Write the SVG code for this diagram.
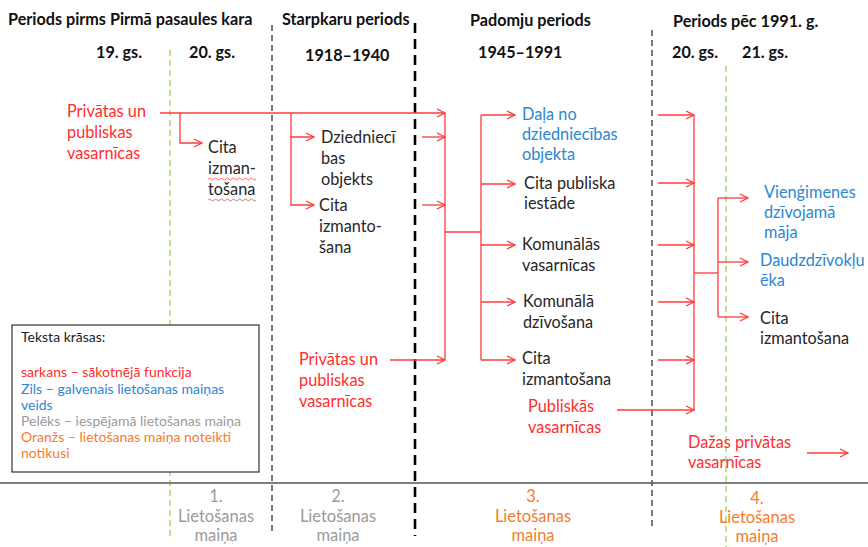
<svg xmlns="http://www.w3.org/2000/svg" width="868" height="547" viewBox="0 0 868 547">
<defs>
<marker id="ah" markerWidth="10" markerHeight="10" refX="9" refY="5" orient="auto" markerUnits="userSpaceOnUse">
<path d="M1,1 L9,5 L1,9" fill="none" stroke="#FF3B3B" stroke-width="1.3"/>
</marker>
<style>
text{font-family:Lato,"Liberation Sans",sans-serif;}
.hd{font-size:16.2px;font-weight:bold;fill:#111;}
.lb{font-size:16.3px;fill:#262626;}
.red{font-size:16.3px;fill:#FF2D2D;}
.blue{font-size:16.3px;fill:#2D86D2;}
.lg{font-size:14px;}
.bt{font-size:16.5px;text-anchor:middle;}
.gray{fill:#9A9A9A;}
.or{fill:#F57B2D;}
.c{fill:none;stroke:#FF3B3B;stroke-width:1.3;}
.ca{fill:none;stroke:#FF3B3B;stroke-width:1.3;marker-end:url(#ah);}
.sq{fill:none;stroke:#FF4040;stroke-width:0.8;}
</style>
</defs>
<rect width="868" height="547" fill="#fff"/>
<g id="grid">
<line x1="170" y1="50" x2="170" y2="538" stroke="#92D050" stroke-width="1.2" stroke-dasharray="6,4"/>
<line x1="726" y1="66" x2="726" y2="547" stroke="#92D050" stroke-width="1.2" stroke-dasharray="6,4"/>
<line x1="272" y1="25" x2="272" y2="535" stroke="#333" stroke-width="1.3" stroke-dasharray="6,4"/>
<line x1="652" y1="30" x2="652" y2="530" stroke="#333" stroke-width="1.3" stroke-dasharray="6,4"/>
<line x1="415" y1="23" x2="415" y2="536" stroke="#000" stroke-width="2.6" stroke-dasharray="10,6"/>
<line x1="0" y1="483" x2="868" y2="483" stroke="#555" stroke-width="1.5"/>
</g>
<g id="headers">
<text class="hd" x="8" y="25">Periods pirms Pirmā pasaules kara</text>
<text class="hd" x="282" y="25">Starpkaru periods</text>
<text class="hd" x="470" y="26">Padomju periods</text>
<text class="hd" x="673" y="27">Periods pēc 1991. g.</text>
<text class="hd" x="96" y="58">19. gs.</text>
<text class="hd" x="189" y="58">20. gs.</text>
<text class="hd" x="305" y="61">1918–1940</text>
<text class="hd" x="478" y="58">1945–1991</text>
<text class="hd" x="672" y="58">20. gs.</text>
<text class="hd" x="742" y="58">21. gs.</text>
</g>
<g id="connectors">
<path class="ca" d="M160,113 H445"/>
<path class="ca" d="M180,113 V143 H202"/>
<path class="ca" d="M291,113 V137 H314"/>
<path class="ca" d="M291,137 V205 H314"/>
<path class="ca" d="M422,137 H445"/>
<path class="ca" d="M422,205 H445"/>
<path class="ca" d="M390,360 H445"/>
<path class="c" d="M445,113 V360"/>
<path class="c" d="M445,232 H481"/>
<path class="c" d="M481,115 V360"/>
<path class="ca" d="M481,115 H515"/>
<path class="ca" d="M481,184 H515"/>
<path class="ca" d="M481,245 H515"/>
<path class="ca" d="M481,302 H515"/>
<path class="ca" d="M481,360 H515"/>
<path class="ca" d="M658,115 H694"/>
<path class="ca" d="M658,183 H694"/>
<path class="ca" d="M658,245 H694"/>
<path class="ca" d="M658,302 H694"/>
<path class="ca" d="M658,360 H694"/>
<path class="ca" d="M617,410 H694"/>
<path class="c" d="M694,115 V410"/>
<path class="c" d="M694,273 H718"/>
<path class="c" d="M718,198 V317"/>
<path class="ca" d="M718,198 H748"/>
<path class="ca" d="M718,262 H748"/>
<path class="ca" d="M718,317 H748"/>
<path class="ca" d="M807,453 H848"/>
</g>
<g id="n-privatas1">
<text class="red"><tspan x="67" y="117">Privātas un</tspan><tspan x="67" y="138">publiskas</tspan><tspan x="67" y="159">vasarnīcas</tspan></text>
</g>
<g id="n-cita1">
<text class="lb"><tspan x="208" y="153">Cita</tspan><tspan x="208" y="174">izman-</tspan><tspan x="208" y="195">tošana</tspan></text>
<path class="sq" d="M208,179 q1.5,-2 3,0 t3,0 t3,0 t3,0 t3,0 t3,0 t3,0 t3,0 t3,0 t3,0 t3,0 t3,0 t3,0 t3,0 t3,0 t3,0"/>
<path class="sq" d="M208,200 q1.5,-2 3,0 t3,0 t3,0 t3,0 t3,0 t3,0 t3,0 t3,0 t3,0 t3,0 t3,0 t3,0 t3,0 t3,0 t3,0 t3,0"/>
</g>
<g id="n-dziedn">
<text class="lb"><tspan x="321" y="143">Dziedniecī</tspan><tspan x="321" y="164">bas</tspan><tspan x="321" y="185">objekts</tspan></text>
</g>
<g id="n-cita2">
<text class="lb"><tspan x="319" y="211">Cita</tspan><tspan x="319" y="232">izmanto-</tspan><tspan x="319" y="253">šana</tspan></text>
</g>
<g id="n-privatas2">
<text class="red"><tspan x="299" y="365">Privātas un</tspan><tspan x="299" y="386">publiskas</tspan><tspan x="299" y="407">vasarnīcas</tspan></text>
</g>
<g id="n-dala">
<text class="blue"><tspan x="522" y="120">Daļa no</tspan><tspan x="522" y="140">dziedniecības</tspan><tspan x="522" y="160">objekta</tspan></text>
</g>
<g id="n-iestade">
<text class="lb"><tspan x="524" y="189">Cita publiska</tspan><tspan x="524" y="209">iestāde</tspan></text>
</g>
<g id="n-komvas">
<text class="lb"><tspan x="522" y="250">Komunālās</tspan><tspan x="522" y="271">vasarnīcas</tspan></text>
</g>
<g id="n-komdz">
<text class="lb"><tspan x="523" y="307">Komunālā</tspan><tspan x="523" y="328">dzīvošana</tspan></text>
</g>
<g id="n-cita3">
<text class="lb"><tspan x="522" y="364">Cita</tspan><tspan x="522" y="385">izmantošana</tspan></text>
</g>
<g id="n-publiskas">
<text class="red"><tspan x="528" y="412">Publiskās</tspan><tspan x="528" y="433">vasarnīcas</tspan></text>
</g>
<g id="n-viengimenes">
<text class="blue"><tspan x="764" y="198">Vienģimenes</tspan><tspan x="764" y="218">dzīvojamā</tspan><tspan x="764" y="238">māja</tspan></text>
</g>
<g id="n-daudz">
<text class="blue"><tspan x="760" y="266">Daudzdzīvokļu</tspan><tspan x="760" y="286">ēka</tspan></text>
</g>
<g id="n-cita4">
<text class="lb"><tspan x="760" y="324">Cita</tspan><tspan x="760" y="344">izmantošana</tspan></text>
</g>
<g id="n-dazas">
<text class="red"><tspan x="688" y="448">Dažas privātas</tspan><tspan x="688" y="468">vasarnīcas</tspan></text>
</g>
<g id="legend">
<rect x="12" y="325" width="247" height="147" fill="#fff" stroke="#333" stroke-width="1.2"/>
<text class="lg" x="21" y="342" fill="#222">Teksta krāsas:</text>
<text class="lg" x="21" y="377" fill="#FF2D2D">sarkans – sākotnējā funkcija</text>
<text class="lg" x="21" y="394" fill="#2D86D2">Zils – galvenais lietošanas maiņas</text>
<text class="lg" x="21" y="410" fill="#2D86D2">veids</text>
<text class="lg" x="21" y="426" fill="#9A9A9A">Pelēks – iespējamā lietošanas maiņa</text>
<text class="lg" x="21" y="442" fill="#F57B2D">Oranžs – lietošanas maiņa noteikti</text>
<text class="lg" x="21" y="458" fill="#F57B2D">notikusi</text>
</g>
<g id="stages">
<text class="bt gray"><tspan x="216" y="502">1.</tspan><tspan x="216" y="522">Lietošanas</tspan><tspan x="216" y="541">maiņa</tspan></text>
<text class="bt gray"><tspan x="338" y="502">2.</tspan><tspan x="338" y="522">Lietošanas</tspan><tspan x="338" y="541">maiņa</tspan></text>
<text class="bt or"><tspan x="533" y="502">3.</tspan><tspan x="533" y="522">Lietošanas</tspan><tspan x="533" y="541">maiņa</tspan></text>
<text class="bt or"><tspan x="757" y="504">4.</tspan><tspan x="757" y="523">Lietošanas</tspan><tspan x="757" y="542">maiņa</tspan></text>
</g>
</svg>
